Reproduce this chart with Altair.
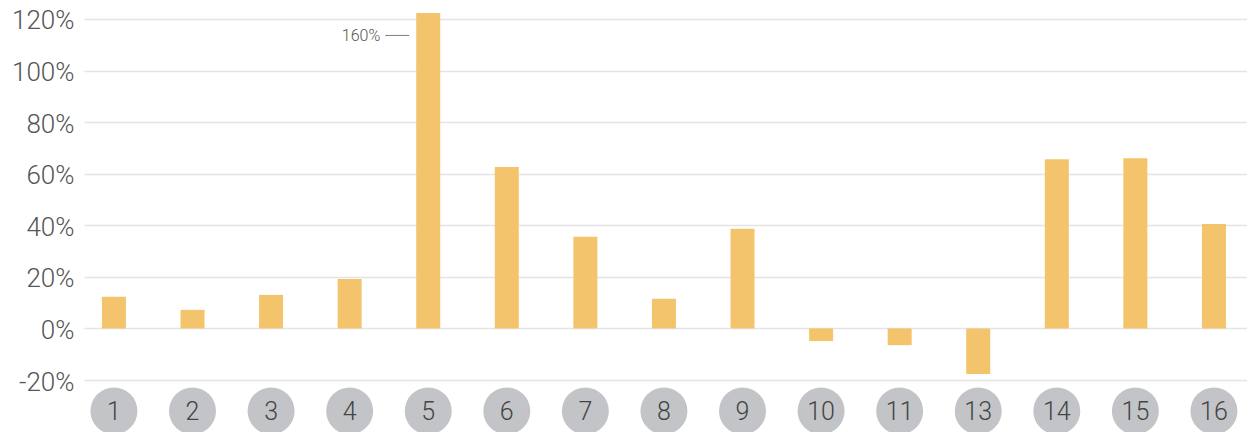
import altair as alt
import pandas as pd

# Categories (12 is absent) and their growth rates, in percent
categories = ["1", "2", "3", "4", "5", "6", "7", "8", "9", "10", "11", "13", "14", "15", "16"]
growth = [12.3, 7.2, 13.0, 19.2, 160.0, 62.6, 35.5, 11.5, 38.6, -4.9, -6.5, -17.7, 65.6, 66.0, 40.5]
y_ticks = [-20, 0, 20, 40, 60, 80, 100, 120]

FONT = "Roboto"
BAR = "#f3c46b"

df = pd.DataFrame({"cat": categories, "growth": growth})

x_scale = alt.Scale(paddingInner=0.6945, paddingOuter=0.248, align=0.46)
y_scale = alt.Scale(domain=[-20, 122.3], nice=False, zero=False)
x_enc = alt.X("cat:N", sort=categories, scale=x_scale, axis=None)

bars = alt.Chart(df).mark_bar(color=BAR, clip=True).encode(
    x=x_enc,
    y=alt.Y(
        "growth:Q",
        scale=y_scale,
        title=None,
        axis=alt.Axis(
            values=y_ticks,
            labelExpr="datum.value + '%'",
            domain=False,
            ticks=False,
            grid=True,
            gridColor="#e4e4e4",
            gridWidth=1.6,
            labelFont=FONT,
            labelFontWeight=300,
            labelFontSize=26,
            labelColor="#555555",
            labelPadding=10,
            labelBaseline="middle",
            labelOffset=2,
        ),
    ),
)

# Grey badges with the category numbers below the plot
badges = alt.Chart(df).mark_circle(size=2209, color="#c3c4c7", opacity=1).encode(
    x=x_enc,
    y=alt.YDatum(-32, type="quantitative", title=None),
)
badge_text = alt.Chart(df).mark_text(
    font=FONT, fontWeight=300, fontSize=25, color="#444444", baseline="middle", dy=1
).encode(
    x=x_enc,
    y=alt.YDatum(-32, type="quantitative", title=None),
    text="cat:N",
)

# Note for the bar that runs off the top of the scale
clipped = df[df["growth"] > 122.3].copy()
clipped["label"] = clipped["growth"].map(lambda v: f"{v:.0f}%")
note_text = alt.Chart(clipped).mark_text(
    font=FONT, fontWeight=300, fontSize=16, color="#555555", align="right", baseline="middle", dx=-48
).encode(
    x=x_enc,
    y=alt.YDatum(113.3, type="quantitative", title=None),
    text="label:N",
)
note_line = alt.Chart(clipped).mark_tick(size=24, thickness=1, xOffset=-31, color="#444444").encode(
    x=x_enc,
    y=alt.YDatum(113.6, type="quantitative", title=None),
)

chart = (
    alt.layer(bars, badges, badge_text, note_text, note_line)
    .properties(
        width=1163,
        height=367,
        autosize=alt.AutoSizeParams(type="none"),
        padding={"left": 84, "top": 13, "right": 0, "bottom": 52},
        background="white",
    )
    .configure_view(stroke=None)
)

chart.save("out.html", embed_options={"renderer": "svg", "actions": False})
